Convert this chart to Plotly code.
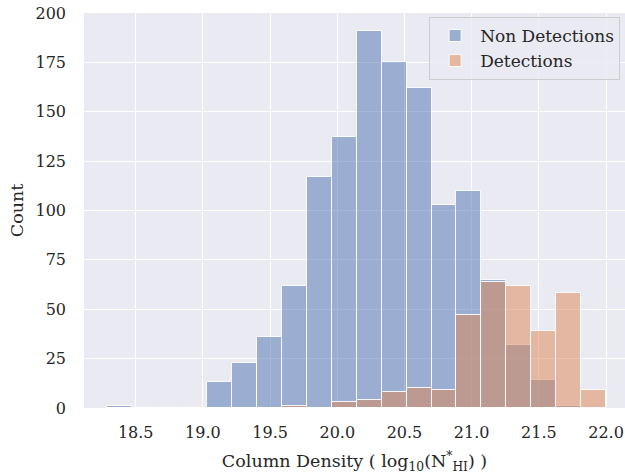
import numpy as np
import plotly.graph_objects as go

# Histogram bins (20 equal bins spanning the data range)
bin_start = 18.289
bin_end = 22.0
n_bins = 20

non_detections = [1, 0, 0, 0, 13, 23, 36, 62, 117, 137, 191, 175, 162, 103, 110, 65, 32, 14, 1, 0]
detections = [0, 0, 0, 0, 0, 0, 0, 1, 0, 3, 4, 8, 10, 9, 47, 64, 62, 39, 58, 9]

x_ticks = [18.5, 19.0, 19.5, 20.0, 20.5, 21.0, 21.5, 22.0]
y_ticks = [0, 25, 50, 75, 100, 125, 150, 175, 200]

edges = np.linspace(bin_start, bin_end, n_bins + 1)
centers = (edges[:-1] + edges[1:]) / 2
widths = np.diff(edges)

FONT = "DejaVu Serif"

fig = go.Figure()
fig.add_trace(go.Bar(
    x=centers, y=non_detections, width=widths, name="Non Detections",
    marker=dict(color="rgba(76,114,176,0.5)", line=dict(color="rgba(255,255,255,0.9)", width=1)),
))
fig.add_trace(go.Bar(
    x=centers, y=detections, width=widths, name="Detections",
    marker=dict(color="rgba(221,132,82,0.5)", line=dict(color="rgba(255,255,255,0.9)", width=1)),
))

fig.update_layout(
    width=625, height=474,
    margin=dict(l=84, r=0, t=13, b=66),
    barmode="overlay", bargap=0,
    plot_bgcolor="#EAEAF2", paper_bgcolor="white",
    font=dict(family=FONT, size=16, color="#262626"),
    showlegend=True,
    legend=dict(
        x=0.991, y=0.99, xanchor="right", yanchor="top",
        bgcolor="rgba(234,234,242,0.8)", bordercolor="#CCCCCC", borderwidth=1,
        font=dict(family=FONT, size=17, color="#262626"),
        tracegroupgap=2, itemwidth=40,
    ),
    xaxis=dict(
        range=[18.115, 22.141], tickvals=x_ticks, ticktext=[f"{v:.1f}" for v in x_ticks],
        showgrid=True, gridcolor="white", gridwidth=1.3, zeroline=False, showline=False,
        ticks="", ticklabelstandoff=13,
        tickfont=dict(family=FONT, size=16),
        title=dict(text="Column Density ( log<sub>10</sub>(N<sup>*</sup><sub>HI</sub>) )",
                   font=dict(family=FONT, size=17.5), standoff=16),
    ),
    yaxis=dict(
        range=[0, 200], tickvals=y_ticks,
        showgrid=True, gridcolor="white", gridwidth=1.3, zeroline=False, showline=False,
        ticks="", ticklabelstandoff=17,
        tickfont=dict(family=FONT, size=16),
        title=dict(text="Count", font=dict(family=FONT, size=17.5), standoff=7),
    ),
)

fig.write_html("out.html")
